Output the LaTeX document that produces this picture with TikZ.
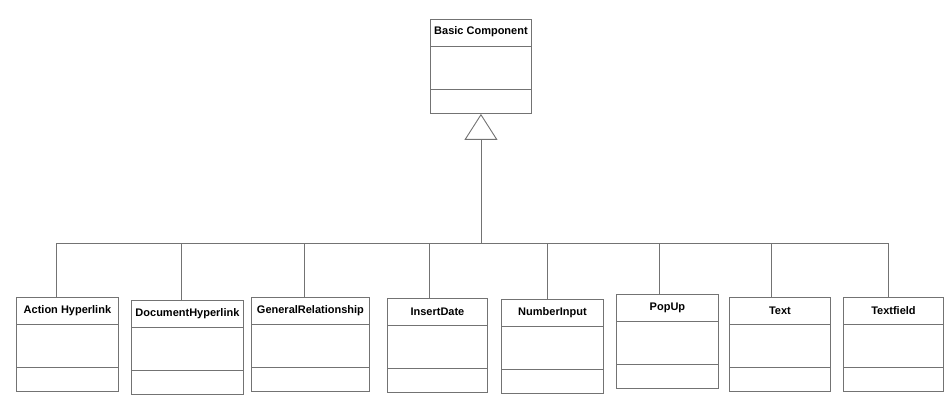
\documentclass[tikz,border=0pt]{standalone}
\usepackage{fontspec}
\setmainfont{Liberation Sans}
\usetikzlibrary{arrows.meta, calc, positioning}

\begin{document}
\begin{tikzpicture}[x=1pt, y=-1pt,
    classbox/.style={draw=black!55, line width=0.9pt, anchor=north west, minimum height=94pt, inner sep=0pt},
    classtitle/.style={font=\fontsize{11}{12}\selectfont\bfseries, inner sep=0pt},
    divider/.style={draw=black!55, line width=0.9pt},
    link/.style={draw=black!55, line width=0.9pt}]
    \useasboundingbox (0,0) rectangle (945,401);
    % parent class
    \node[classbox, minimum width=101pt] (basic) at (430,19) {};
    \node[classtitle] (basic-title) at ($(basic.north)+(0,13)$) {Basic Component};
    \draw[divider] ($(basic.north west)+(0,27)$) -- ($(basic.north east)+(0,27)$);
    \draw[divider] ($(basic.south west)+(0,-24)$) -- ($(basic.south east)+(0,-24)$);
    \coordinate (bus) at ($(basic.south)+(0,130)$);
    \draw[link, -{Triangle[open, width=33pt, length=26pt]}] (bus) -- (basic.south);
    % child classes
    \foreach \n/\l/\t/\w/\o/\txt in {action/16/297/102/40/{Action Hyperlink},
        document/131/300/112/50/DocumentHyperlink,
        general/251/297/118/53/GeneralRelationship,
        insertdate/387/298/100/42/InsertDate,
        numberinput/501/299/102/46/NumberInput,
        popup/616/294/102/43/PopUp,
        text/729/297/101/42/Text,
        textfield/843/297/100/45/Textfield} {
        \node[classbox, minimum width=\w pt] (\n) at (\l,\t) {};
        \node[classtitle] (\n-title) at ($(\n.north)+(0,14)$) {\txt};
        \draw[divider] ($(\n.north west)+(0,27)$) -- ($(\n.north east)+(0,27)$);
        \draw[divider] ($(\n.south west)+(0,-24)$) -- ($(\n.south east)+(0,-24)$);
        \coordinate (\n-top) at ($(\n.north west)+(\o,0)$);
        \draw[link] (\n-top) |- (bus);
    }
\end{tikzpicture}
\end{document}
